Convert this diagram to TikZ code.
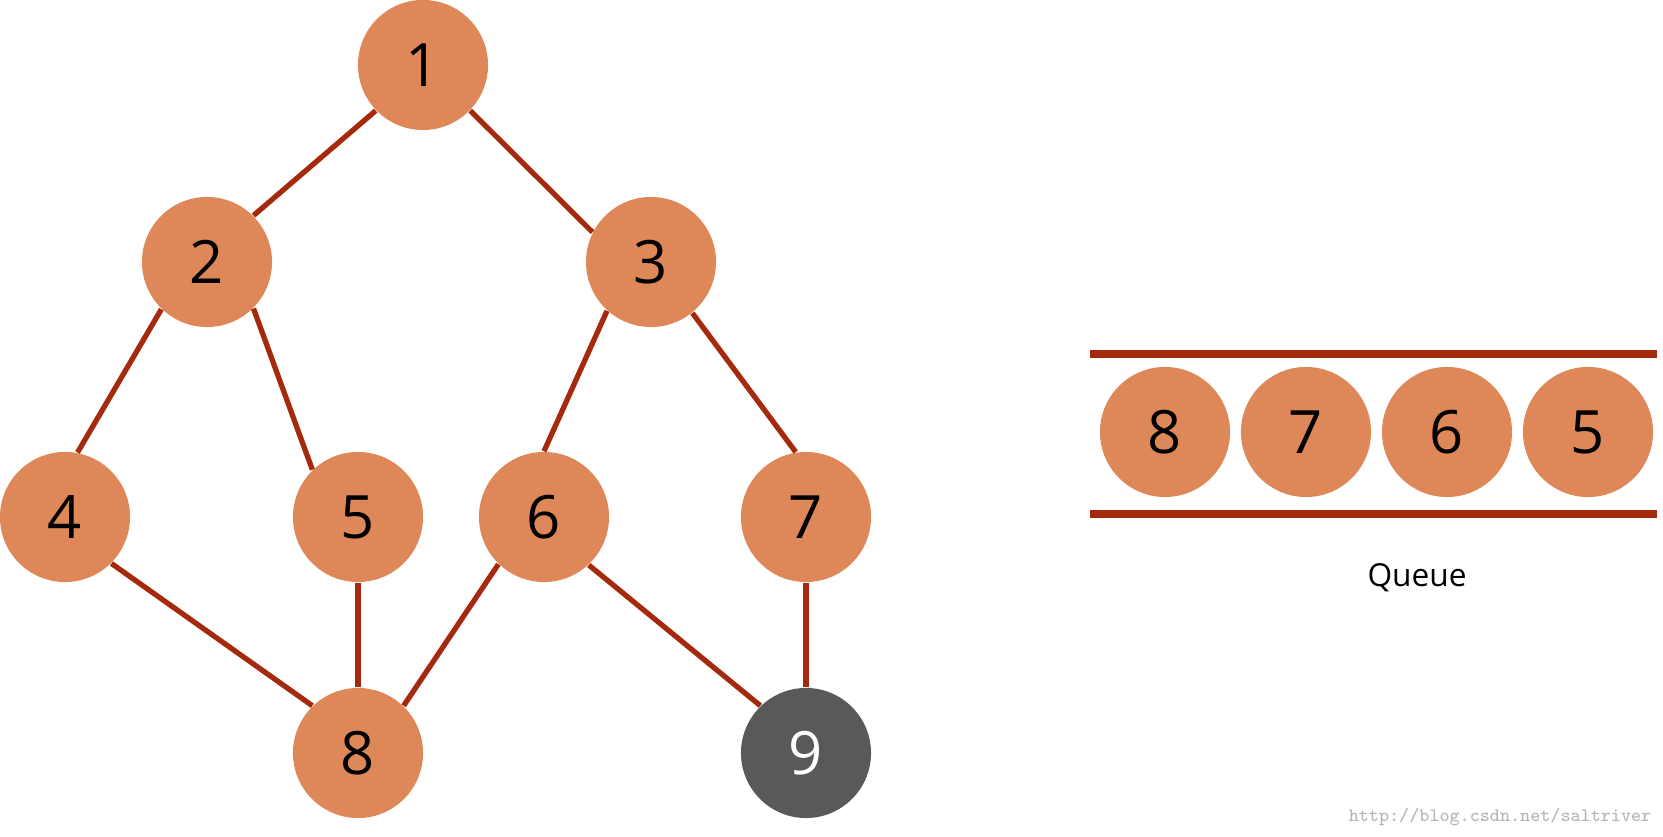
\documentclass[tikz,border=0pt]{standalone}
\usepackage{fontspec}
\setmainfont{Open Sans}
\usepackage{tikz}
\usetikzlibrary{positioning}
\definecolor{peach}{HTML}{DE8758}
\definecolor{rust}{HTML}{A52A0D}
\definecolor{slate}{HTML}{595959}
\definecolor{faint}{HTML}{B4B4B4}
\colorlet{vis}{peach}
\colorlet{edge}{rust}

\begin{document}
\begin{tikzpicture}[x=0.01cm,y=-0.01cm,
    vtx/.style={circle,fill=vis,minimum size=1.3cm,inner sep=0pt,
      font=\fontsize{17}{17}\selectfont},
    cur/.style={vtx,fill=slate,text=white},
    link/.style={edge,line width=1.5pt}]
  \useasboundingbox (0,0) rectangle (1663,837);
  % graph
  \node[vtx] (n1) at (423,65) {1};
  \node[vtx] (n2) at (207,262) {2};
  \node[vtx] (n3) at (651,262) {3};
  \node[vtx] (n4) at (65,517) {4};
  \node[vtx] (n5) at (358,517) {5};
  \node[vtx] (n6) at (544,517) {6};
  \node[vtx] (n7) at (806,517) {7};
  \node[vtx] (n8) at (358,753) {8};
  \node[cur] (n9) at (806,753) {9};
  \foreach \a/\p/\b/\q in {1/224/2/45,1/316/3/153,2/226/4/79,2/315/5/134,
      3/228/6/90,3/309/7/99,4/315/8/134,5/270/8/90,6/226/8/46,
      6/313/9/134,7/270/9/90}
    \draw[link] (n\a.\p) -- (n\b.\q);
  % queue
  \coordinate (qtl) at (1090,354);
  \coordinate (qtr) at (1657,354);
  \coordinate (qbl) at (1090,514);
  \coordinate (qbr) at (1657,514);
  \draw[edge,line width=2.4pt] (qtl) -- (qtr);
  \draw[edge,line width=2.4pt] (qbl) -- (qbr);
  \node[vtx] (q8) at (1165,432) {8};
  \node[vtx] (q7) at (1306,432) {7};
  \node[vtx] (q6) at (1447,432) {6};
  \node[vtx] (q5) at (1588,432) {5};
  \node[font=\fontsize{9}{9}\selectfont] (qlab) at (1417,578) {Queue};
  \node[faint,font=\ttfamily\fontsize{5.4}{6}\selectfont] (mark) at (1500,817)
    {http://blog.csdn.net/saltriver};
\end{tikzpicture}
\end{document}
